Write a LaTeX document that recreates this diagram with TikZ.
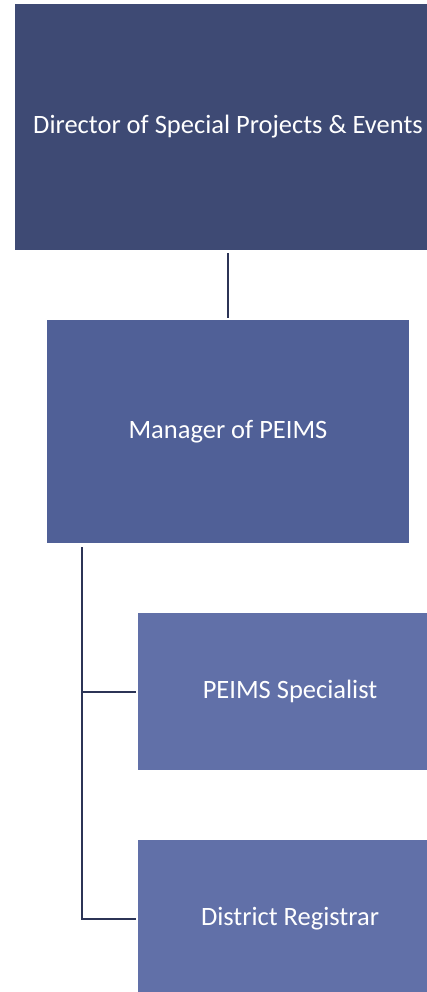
\documentclass[tikz,border=0pt]{standalone}
\usepackage{fontspec}
\setmainfont{Carlito}
\definecolor{cDir}{RGB}{62,74,116}
\definecolor{cMgr}{RGB}{80,96,151}
\definecolor{cStaff}{RGB}{97,112,168}
\definecolor{cLine}{RGB}{44,52,86}
\begin{document}
\begin{tikzpicture}[x=1pt,y=-1pt,
  box/.style={rectangle,draw=none,inner sep=0pt,text=white,font=\fontsize{26.5}{30}\selectfont},
  conn/.style={draw=cLine,line width=2pt}]
\useasboundingbox (0,0) rectangle (426,992);
\node[box,fill=cDir,minimum width=426pt,minimum height=246pt] (dir) at (228,127) {Director of Special Projects \& Events};
\node[box,fill=cMgr,minimum width=362pt,minimum height=223pt] (mgr) at (228,431.5) {Manager of PEIMS};
\node[box,fill=cStaff,minimum width=304pt,minimum height=157pt] (spec) at (290,691.5) {PEIMS Specialist};
\node[box,fill=cStaff,minimum width=304pt,minimum height=157pt] (reg) at (290,918.5) {District Registrar};
\draw[conn,shorten <=3pt,shorten >=2pt] (dir.south) -- (mgr.north);
\coordinate (trunk) at ([xshift=35pt,yshift=-4pt]mgr.south west);
\draw[conn] (trunk) |- ([xshift=-2pt]reg.west);
\draw[conn] (trunk |- spec.west) -- ([xshift=-2pt]spec.west);
\end{tikzpicture}
\end{document}
